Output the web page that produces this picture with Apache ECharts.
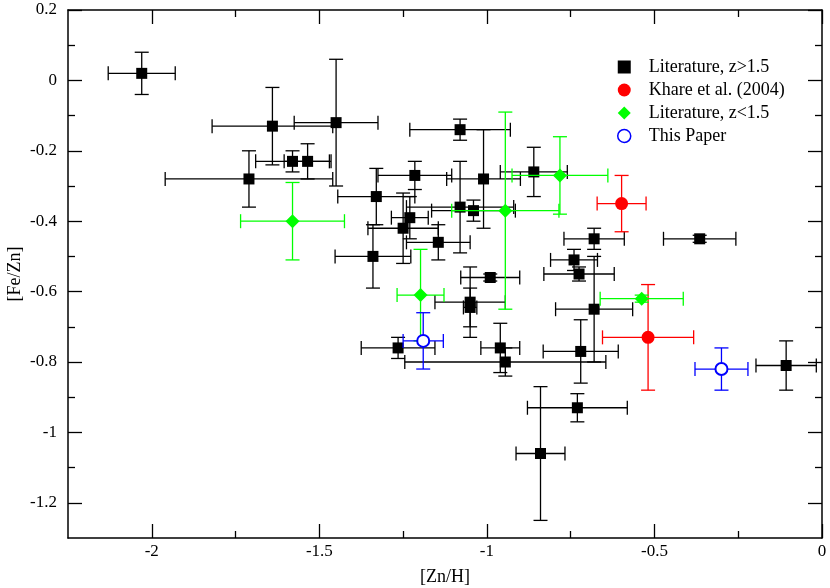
<!DOCTYPE html>
<html>
<head>
<meta charset="utf-8">
<script src="https://cdn.jsdelivr.net/npm/echarts@6/dist/echarts.min.js"></script>
<style>
html,body{margin:0;padding:0;background:#fff;}
#chart{width:830px;height:588px;}
</style>
</head>
<body>
<div id="chart"></div>
<script>
// [Zn/H], [Fe/Zn], xerr, yerr
const litHigh = [
  [-2.03, 0.02, 0.10, 0.06],
  [-1.64, -0.13, 0.18, 0.11],
  [-1.45, -0.12, 0.125, 0.18],
  [-1.58, -0.23, 0.11, 0.03],
  [-1.535, -0.23, 0.07, 0.05],
  [-1.71, -0.28, 0.25, 0.08],
  [-1.08, -0.14, 0.15, 0.03],
  [-0.86, -0.26, 0.10, 0.07],
  [-1.01, -0.28, 0.11, 0.14],
  [-1.215, -0.27, 0.11, 0.04],
  [-1.33, -0.33, 0.115, 0.08],
  [-1.23, -0.39, 0.055, 0.06],
  [-1.25, -0.42, 0.105, 0.10],
  [-1.08, -0.36, 0.16, 0.13],
  [-1.04, -0.37, 0.125, 0.03],
  [-1.145, -0.46, 0.095, 0.05],
  [-1.34, -0.50, 0.113, 0.09],
  [-0.99, -0.56, 0.088, 0.01],
  [-1.05, -0.63, 0.105, 0.10],
  [-1.05, -0.645, 0.02, 0.055],
  [-1.265, -0.76, 0.11, 0.03],
  [-0.96, -0.76, 0.058, 0.07],
  [-0.945, -0.80, 0.30, 0.04],
  [-0.68, -0.45, 0.09, 0.03],
  [-0.365, -0.45, 0.108, 0.01],
  [-0.74, -0.51, 0.07, 0.03],
  [-0.725, -0.55, 0.105, 0.02],
  [-0.68, -0.65, 0.115, 0.15],
  [-0.72, -0.77, 0.112, 0.09],
  [-0.107, -0.81, 0.09, 0.07],
  [-0.73, -0.93, 0.149, 0.04],
  [-0.84, -1.06, 0.073, 0.19]
];
const khare = [
  [-0.598, -0.35, 0.073, 0.08],
  [-0.519, -0.73, 0.136, 0.15]
];
const litLow = [
  [-1.58, -0.40, 0.155, 0.11],
  [-0.782, -0.27, 0.143, 0.11],
  [-0.945, -0.37, 0.16, 0.28],
  [-1.198, -0.61, 0.07, 0.13],
  [-0.538, -0.62, 0.124, 0.01]
];
const thisPaper = [
  [-1.19, -0.74, 0.06, 0.08],
  [-0.30, -0.82, 0.079, 0.06]
];
const xMajor = [-2, -1.5, -1, -0.5, 0];
const xMinor = [-1.75, -1.25, -0.75, -0.25];
const yMajor = [0.2, 0, -0.2, -0.4, -0.6, -0.8, -1, -1.2];
const yMinor = [0.1, -0.1, -0.3, -0.5, -0.7, -0.9, -1.1];
const seriesNames = ['Literature, z>1.5', 'Khare et al. (2004)', 'Literature, z<1.5', 'This Paper'];

const FONT = 'Liberation Serif';
const chart = echarts.init(document.getElementById('chart'));

function errRenderer(color) {
  return function (params, api) {
    const x = api.value(0), y = api.value(1), ex = api.value(2), ey = api.value(3);
    const l = api.coord([x - ex, y]), r = api.coord([x + ex, y]);
    const t = api.coord([x, y + ey]), b = api.coord([x, y - ey]);
    const h = 7;
    const st = { stroke: color, lineWidth: 1.3 };
    const ln = (x1, y1, x2, y2) => ({ type: 'line', shape: { x1, y1, x2, y2 }, style: st });
    return {
      type: 'group',
      children: [
        ln(l[0], l[1], r[0], r[1]),
        ln(t[0], t[1], b[0], b[1]),
        ln(l[0], l[1] - h, l[0], l[1] + h),
        ln(r[0], r[1] - h, r[0], r[1] + h),
        ln(t[0] - h, t[1], t[0] + h, t[1]),
        ln(b[0] - h, b[1], b[0] + h, b[1])
      ]
    };
  };
}

function xAx(pos, vals, len, labels, line) {
  return {
    type: 'value', position: pos, min: -2.25, max: 0,
    axisLine: { show: line, onZero: false, lineStyle: { color: '#000', width: 1.5 } },
    axisTick: { show: true, inside: true, length: len, customValues: vals, lineStyle: { color: '#000', width: 1.3 } },
    axisLabel: labels ? { show: true, customValues: vals, color: '#000', fontFamily: FONT, fontSize: 17, margin: 5,
      formatter: v => String(Math.round(v * 100) / 100) } : { show: false },
    splitLine: { show: false }
  };
}
function yAx(pos, vals, len, labels, line) {
  return {
    type: 'value', position: pos, min: -1.3, max: 0.2,
    axisLine: { show: line, onZero: false, lineStyle: { color: '#000', width: 1.5 } },
    axisTick: { show: true, inside: true, length: len, customValues: vals, lineStyle: { color: '#000', width: 1.3 } },
    axisLabel: labels ? { show: true, customValues: vals, color: '#000', fontFamily: FONT, fontSize: 17, margin: 11,
      formatter: v => String(Math.round(v * 100) / 100) } : { show: false },
    splitLine: { show: false }
  };
}

const xAxes = [
  Object.assign(xAx('bottom', xMajor, 14, true, true), {
    name: '[Zn/H]', nameLocation: 'middle', nameGap: 30, nameMoveOverlap: false,
    nameTextStyle: { color: '#000', fontFamily: FONT, fontSize: 18 }
  }),
  xAx('bottom', xMinor, 7, false, false),
  xAx('top', xMajor, 14, false, true),
  xAx('top', xMinor, 7, false, false)
];
const yAxes = [
  Object.assign(yAx('left', yMajor, 14, true, true), {
    name: '[Fe/Zn]', nameLocation: 'middle', nameGap: 44, nameRotate: 90, nameMoveOverlap: false,
    nameTextStyle: { color: '#000', fontFamily: FONT, fontSize: 18 }
  }),
  yAx('left', yMinor, 7, false, false),
  yAx('right', yMajor, 14, false, true),
  yAx('right', yMinor, 7, false, false)
];

const groups = [
  { name: seriesNames[0], data: litHigh, color: '#000000', symbol: 'rect', size: 11 },
  { name: seriesNames[1], data: khare, color: '#ff0000', symbol: 'circle', size: 13 },
  { name: seriesNames[2], data: litLow, color: '#00ff00', symbol: 'diamond', size: 14 },
  { name: seriesNames[3], data: thisPaper, color: '#0000ff', symbol: 'emptyCircle', size: 12 }
];

const series = [];
groups.forEach((g, i) => {
  series.push({
    type: 'custom', name: g.name + ' err', xAxisIndex: 0, yAxisIndex: 0,
    renderItem: errRenderer(g.color), data: g.data, encode: { x: 0, y: 1 },
    z: 2 + i * 2, silent: true, animation: false
  });
  series.push({
    type: 'scatter', name: g.name, xAxisIndex: 0, yAxisIndex: 0,
    data: g.data.map(d => [d[0], d[1]]), symbol: g.symbol, symbolSize: g.size,
    itemStyle: g.symbol === 'emptyCircle' ? { color: g.color, borderColor: g.color, borderWidth: 1.5, opacity: 1 } : { color: g.color, opacity: 1 },
    z: 3 + i * 2, animation: false
  });
});

const legendIcons = [
  { name: seriesNames[0], icon: 'path://M1.5,1.5L11.5,1.5L11.5,11.5L1.5,11.5Z' },
  { name: seriesNames[1], icon: 'circle' },
  { name: seriesNames[2], icon: 'diamond' },
  { name: seriesNames[3], icon: 'path://M6.5,0.5A6,6,0,1,1,6.49,0.5Z',
    itemStyle: { color: 'rgba(0,0,0,0)', borderColor: '#0000ff', borderWidth: 1.5 } }
];

chart.setOption({
  backgroundColor: '#fff',
  animation: false,
  grid: { left: 68, right: 8, top: 10, bottom: 50, containLabel: false, outerBoundsMode: 'none' },
  xAxis: xAxes,
  yAxis: yAxes,
  legend: {
    data: legendIcons, orient: 'vertical', left: 612, top: 53,
    itemWidth: 13, itemHeight: 13, itemGap: 5,
    textStyle: { color: '#000', fontFamily: FONT, fontSize: 18, lineHeight: 18, padding: [0, 0, 0, 13] },
    selectedMode: false
  },
  series: series
});
</script>
</body>
</html>
